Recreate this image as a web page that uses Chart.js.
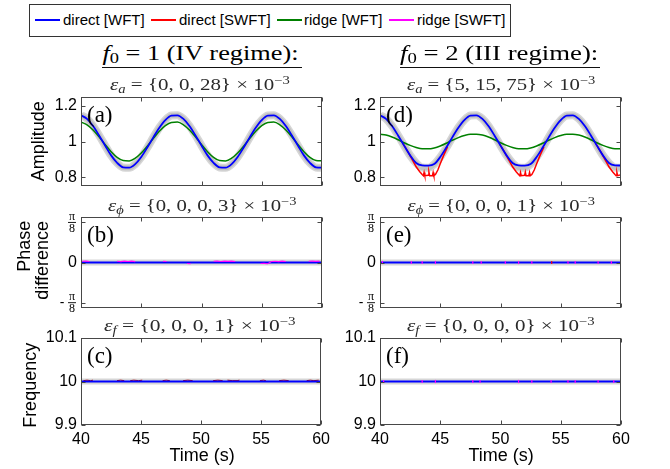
<!DOCTYPE html>
<html><head><meta charset="utf-8">
<script src="https://cdn.jsdelivr.net/npm/chart.js"></script>
<style>
html,body{margin:0;padding:0;background:#fff}
body{width:670px;height:469px;position:relative;overflow:hidden;font-family:"Liberation Sans",Arial,sans-serif;color:#000}
canvas{position:absolute}
.lab{position:absolute;white-space:nowrap;line-height:1.15;transform-origin:center center}
.serif{font-family:"Liberation Serif","Times New Roman",serif}
.sb{position:relative;top:0.25em;font-size:0.7em}
.sp{position:relative;top:-0.5em;font-size:0.7em}
.rule{position:absolute;height:1.5px;background:#111}
.lg{position:absolute;top:19px;width:25px;height:2px}
.lt{position:absolute;top:11px;font-size:15px;line-height:18px;white-space:nowrap}
</style></head><body>

<div style="position:absolute;left:29px;top:4px;width:480px;height:31px;border:1px solid #333"></div>
<div class="lg" style="left:35px;background:#0000ff"></div><span class="lt" style="left:63px">direct [WFT]</span>
<div class="lg" style="left:151px;background:#ff0000"></div><span class="lt" style="left:179px">direct [SWFT]</span>
<div class="lg" style="left:277px;background:#008000"></div><span class="lt" style="left:304px">ridge [WFT]</span>
<div class="lg" style="left:389px;background:#ff00ff"></div><span class="lt" style="left:417px">ridge [SWFT]</span>

<canvas id="ca"></canvas><canvas id="cb"></canvas><canvas id="cc"></canvas>
<canvas id="cd"></canvas><canvas id="ce"></canvas><canvas id="cf"></canvas>

<div class="lab serif" data-x="200" data-y="53" data-w="196" style="font-size:20px"><i>f</i><span class="sb">0</span> = 1 (IV regime):</div>
<div class="rule" style="left:102px;top:66.5px;width:200px"></div>
<div class="lab serif" data-x="200" data-y="85" data-w="180" style="font-size:17px;color:#2a2a2a"><i>ε</i><span class="sb"><i>a</i></span> = {0, 0, 28} × 10<span class="sp">−3</span></div>
<div class="lab serif" data-x="499" data-y="53" data-w="198" style="font-size:20px"><i>f</i><span class="sb">0</span> = 2 (III regime):</div>
<div class="rule" style="left:400px;top:66.5px;width:200px"></div>
<div class="lab serif" data-x="501" data-y="85" data-w="188" style="font-size:17px;color:#2a2a2a"><i>ε</i><span class="sb"><i>a</i></span> = {5, 15, 75} × 10<span class="sp">−3</span></div>

<div class="lab serif" data-x="202" data-y="206" data-w="189" style="font-size:17px;color:#2a2a2a"><i>ε</i><span class="sb"><i>ϕ</i></span> = {0, 0, 0, 3} × 10<span class="sp">−3</span></div>
<div class="lab serif" data-x="501" data-y="206" data-w="188" style="font-size:17px;color:#2a2a2a"><i>ε</i><span class="sb"><i>ϕ</i></span> = {0, 0, 0, 1} × 10<span class="sp">−3</span></div>
<div class="lab serif" data-x="200" data-y="326" data-w="192" style="font-size:17px;color:#2a2a2a"><i>ε</i><span class="sb"><i>f</i></span> = {0, 0, 0, 1} × 10<span class="sp">−3</span></div>
<div class="lab serif" data-x="501" data-y="326" data-w="188" style="font-size:17px;color:#2a2a2a"><i>ε</i><span class="sb"><i>f</i></span> = {0, 0, 0, 0} × 10<span class="sp">−3</span></div>

<div class="lab" data-x="38" data-y="141.5" data-rot="1" style="font-size:18px">Amplitude</div>
<div class="lab" data-x="24" data-y="246" data-rot="1" style="font-size:18px">Phase</div>
<div class="lab" data-x="42" data-y="260" data-rot="1" style="font-size:18px">difference</div>
<div class="lab" data-x="30" data-y="385" data-rot="1" style="font-size:18px">Frequency</div>
<div class="lab" data-x="202" data-y="455" style="font-size:18px">Time (s)</div>
<div class="lab" data-x="501" data-y="455" style="font-size:18px">Time (s)</div>

<script>
// ---------------- data ----------------
const timeAmp = [40,40.5,41,41.5,42,42.5,43,43.5,44,44.5,45,45.5,46,46.5,47,47.5,48,48.5,49,49.5,50,50.5,51,51.5,52,52.5,53,53.5,54,54.5,55,55.5,56,56.5,57,57.5,58,58.5,59,59.5,60];
// true signal (grey band)
const ampSignal = [1.148,1.128,1.088,1.035,0.977,0.922,0.879,0.854,0.852,0.872,0.912,0.965,1.023,1.078,1.121,1.146,
                   1.148,1.128,1.088,1.035,0.977,0.922,0.879,0.854,0.852,0.872,0.912,0.965,1.023,1.078,1.121,1.146,
                   1.148,1.128,1.088,1.035,0.977,0.922,0.879,0.854,0.852];
// (a) f0 = 1
const ampDirectWFT_a = [1.147,1.127,1.087,1.034,0.977,0.922,0.880,0.855,0.853,0.873,0.913,0.966,1.023,1.077,1.120,1.145,
                        1.147,1.127,1.087,1.034,0.977,0.922,0.880,0.855,0.853,0.873,0.913,0.966,1.023,1.077,1.120,1.145,
                        1.147,1.127,1.087,1.034,0.977,0.922,0.880,0.855,0.853];
const ampRidgeWFT_a = [1.109,1.094,1.065,1.026,0.983,0.943,0.911,0.893,0.891,0.906,0.935,0.974,1.017,1.057,1.089,1.107,
                       1.109,1.094,1.065,1.026,0.983,0.943,0.911,0.893,0.891,0.906,0.935,0.974,1.017,1.057,1.089,1.107,
                       1.109,1.094,1.065,1.026,0.983,0.943,0.911,0.893,0.891];
// (d) f0 = 2
const ampDirectWFT_d = [1.147,1.127,1.087,1.034,0.977,0.922,0.879,0.866,0.865,0.873,0.913,0.966,1.023,1.077,1.120,1.145,
                        1.147,1.127,1.087,1.034,0.977,0.922,0.879,0.866,0.865,0.873,0.913,0.966,1.023,1.077,1.120,1.145,
                        1.147,1.127,1.087,1.034,0.977,0.922,0.879,0.866,0.865];
const ampRidgeWFT_d = [1.041,1.036,1.025,1.010,0.993,0.978,0.966,0.959,0.959,0.964,0.975,0.990,1.007,1.022,1.034,1.041,
                       1.041,1.036,1.025,1.010,0.993,0.978,0.966,0.959,0.959,0.964,0.975,0.990,1.007,1.022,1.034,1.041,
                       1.041,1.036,1.025,1.010,0.993,0.978,0.966,0.959,0.959];
const timeDirectSWFT_d = [41.9,42.3,42.7,43.0,43.3,43.5,43.6,43.66,43.72,44.0,44.06,44.12,44.35,44.41,44.47,44.6,44.8,45.0,45.3,45.6,45.8,
                          49.9,50.3,50.7,51.0,51.3,51.5,51.6,51.66,51.72,52.0,52.06,52.12,52.35,52.41,52.47,52.6,52.8,53.0,53.3,53.6,53.8,
                          57.9,58.3,58.7,59.0,59.3,59.5,59.6,59.66,59.72,59.95,60.0];
const ampDirectSWFT_d = [0.99,0.945,0.895,0.858,0.83,0.815,0.808,0.826,0.808,0.810,0.828,0.808,0.808,0.826,0.808,0.814,0.84,0.875,0.925,0.97,null,
                         0.99,0.945,0.895,0.858,0.83,0.815,0.808,0.826,0.808,0.810,0.828,0.808,0.808,0.826,0.808,0.814,0.84,0.875,0.925,0.97,null,
                         0.99,0.945,0.895,0.858,0.83,0.815,0.808,0.826,0.808,0.812,0.822];
// phase difference panels
const timeSpan = [40, 60];
const phaseLine = [0, 0];
const timeRidgeSWFT_b = [40.1,40.4,40.7,40.8, 43.0,43.3,43.6,43.9,44.2,44.5,44.6, 46.8,47.1,47.2, 48.8,49.1,49.2,
                         51.0,51.3,51.6,51.9,52.2,52.5,52.8,52.9, 54.9,55.2,55.5,55.8,56.1,56.4,56.7,57.0,57.1, 58.9,59.2,59.5,59.8];
const phaseRidgeSWFT_b = [0.012,0.014,0.010,null, 0.012,0.008,0.014,0.010,0.013,0.009,null, 0.012,0.010,null, -0.010,-0.012,null,
                          0.012,0.014,0.010,0.013,0.011,0.014,0.010,null, -0.010,-0.008,-0.012,0.010,0.012,0.009,0.013,0.010,null, 0.012,0.014,0.011,0.013];
const timeRidgeSWFT_e = [40.2,42.6,43.5,44.6,47.7,48.4,50.4,51.5,52.6,55.6,56.2,58.1,59.2];
const phaseRidgeSWFT_e = [0,0,0,0,0,0,0,0,0,0,0,0,0];
const timeDirectSWFT_e = [54.25];
const phaseDirectSWFT_e = [0];
// frequency panels
const freqLine = [10, 10];
const timeDirectSWFT_c = [40.2,40.5,40.8,41.0,41.1, 43.0,43.3,43.6,43.7, 44.1,44.4,44.8,45.1,45.2, 46.8,47.1,47.4,47.5,
                          48.5,48.9,49.3,49.4, 51.0,51.4,51.8,51.9, 52.2,52.6,53.0,53.2,53.3, 54.9,55.2,55.4,55.5,
                          56.5,56.9,57.3,57.4, 58.8,59.1,59.4,59.8];
const freqDirectSWFT_c = [10.002,10.003,10.002,10.003,null, 10.002,10.003,10.002,null, 10.002,10.003,10.002,10.003,null, 10.002,10.003,10.002,null,
                          10.002,10.003,10.002,null, 10.002,10.003,10.002,null, 10.003,10.002,10.002,10.003,null, 10.002,10.003,10.002,null,
                          10.002,10.003,10.002,null, 10.002,10.003,10.002,10.003];
const timeRidgeSWFT_f = [40.3,43.5,44.6,47.7,48.3,51.5,52.6,54.2,55.6,56.2,58.1,59.4];
const freqRidgeSWFT_f = [10,10,10,10,10,10,10,10,10,10,10,10];
// ticks
const xTicks = [40,45,50,55,60];
const ampTicks = [0.8,1,1.2];
const phaseTicks = [-Math.PI/8, 0, Math.PI/8];
const freqTicks = [9.9,10,10.1];

// ---------------- helpers ----------------
const SANS = '"Liberation Sans", Arial, sans-serif';
const SERIF = '"Liberation Serif", "Times New Roman", serif';
const C = {blue:'#0000ff', red:'#ff0000', darkred:'#b00000', green:'#008000', mag:'#ff00ff', grey:'#d6d6d6', greyDark:'#c2c2c2'};
function pts(xs, ys){ return xs.map((x,i)=>({x:x, y:ys[i]})); }
function line(xs, ys, color, width, order, extra){
  return Object.assign({data:pts(xs,ys), borderColor:color, backgroundColor:color, borderWidth:width,
    pointRadius:0, fill:false, order:order, spanGaps:false, clip:0, cubicInterpolationMode:'monotone'}, extra||{});
}
function marks(xs, ys, color, order){
  return {data:pts(xs,ys), showLine:false, pointStyle:'line', rotation:90, pointRadius:1.6,
    pointBorderColor:color, pointBorderWidth:1.2, borderColor:color, order:order, clip:0};
}
const deco = {
  id:'deco',
  afterDatasetsDraw(chart, args, o){
    const ctx = chart.ctx, a = chart.chartArea, xs = chart.scales.x, ys = chart.scales.y;
    const L = Math.round(a.left)+0.5, R = Math.round(a.right)-0.5, T = Math.round(a.top)+0.5, B = Math.round(a.bottom)-0.5;
    ctx.save();
    ctx.strokeStyle = '#474747'; ctx.lineWidth = 1;
    ctx.beginPath();
    xs.ticks.forEach(t=>{ const p = Math.round(xs.getPixelForValue(t.value))+0.5;
      ctx.moveTo(p,B); ctx.lineTo(p,B-4); ctx.moveTo(p,T); ctx.lineTo(p,T+4); });
    ys.ticks.forEach(t=>{ const p = Math.round(ys.getPixelForValue(t.value))+0.5;
      ctx.moveTo(L,p); ctx.lineTo(L+4,p); ctx.moveTo(R,p); ctx.lineTo(R-4,p); });
    ctx.stroke();
    ctx.strokeRect(L, T, R-L, B-T);
    ctx.fillStyle = '#000';
    ctx.font = '23px ' + SERIF; ctx.textAlign = 'left'; ctx.textBaseline = 'middle';
    ctx.fillText(o.letter, a.left+6, a.top+19);
    if (o.fractions){
      [Math.PI/8, -Math.PI/8].forEach(v=>{
        const py = ys.getPixelForValue(v), cx = a.left-9;
        ctx.font = '12px ' + SERIF; ctx.textAlign = 'center';
        ctx.textBaseline = 'bottom'; ctx.fillText('π', cx, py+0.5);
        ctx.textBaseline = 'top'; ctx.fillText('8', cx, py+0.5);
        ctx.fillRect(cx-4, py-0.4, 8, 0.9);
        if (v < 0){ ctx.font = '14px ' + SANS; ctx.textBaseline='middle'; ctx.fillText('-', cx-10, py); }
      });
    }
    ctx.restore();
  }
};
function panel(id, box, col, bottomRow, yMin, yMax, yTicks, yLabel, datasets, letter, fractions){
  const cl = col===0 ? 0 : 310, cw = col===0 ? 335 : 360;
  const top = box.T - 15, bot = box.B + (bottomRow ? 38 : 15);
  const cv = document.getElementById(id);
  cv.width = cw; cv.height = bot - top;
  cv.style.left = cl + 'px'; cv.style.top = top + 'px';
  const YW = 40, XH = bottomRow ? 30 : 0;
  return new Chart(cv, {
    type:'line',
    data:{datasets:datasets},
    plugins:[deco],
    options:{
      responsive:false, animation:false, devicePixelRatio:1,
      layout:{autoPadding:false, padding:{left: box.L - cl - YW, right: cl + cw - box.R, top:15, bottom: bottomRow ? 38 - XH : 15}},
      plugins:{legend:{display:false}, tooltip:{enabled:false}, deco:{letter:letter, fractions:fractions}},
      elements:{line:{tension:0}},
      scales:{
        x:{type:'linear', min:40, max:60,
           afterBuildTicks:s=>{ s.ticks = xTicks.map(v=>({value:v})); },
           afterFit:s=>{ s.height = XH; },
           grid:{display:false, drawTicks:false}, border:{display:false},
           ticks:{display:bottomRow, padding:5, color:'#000', font:{family:SANS, size:16}, maxRotation:0, callback:v=>String(v)}},
        y:{type:'linear', min:yMin, max:yMax,
           afterBuildTicks:s=>{ s.ticks = yTicks.map(v=>({value:v})); },
           afterFit:s=>{ s.width = YW; },
           grid:{display:false, drawTicks:false}, border:{display:false},
           ticks:{padding:4, color:'#000', font:{family:SANS, size:16}, callback:yLabel}}
      }
    }
  });
}
const numLabel = v => String(Math.round(v*100)/100);
const phaseLabel = v => (Math.abs(v) < 1e-9 ? '0' : '');
const rowA = {T:97, B:186}, rowB = {T:217, B:308}, rowC = {T:338, B:425};
const colL = {L:81, R:322}, colR = {L:380, R:621};
const box = (c, r) => ({L:c.L, R:c.R, T:r.T, B:r.B});

panel('ca', box(colL,rowA), 0, false, 0.75, 1.25, ampTicks, numLabel, [
  line(timeAmp, ampSignal, C.grey, 8, 6),
  line(timeAmp, ampSignal, C.greyDark, 5, 5),
  line(timeAmp, ampRidgeWFT_a, C.green, 1.5, 4),
  line(timeAmp, ampDirectWFT_a, C.blue, 1.8, 2)
], '(a)', false);
panel('cd', box(colR,rowA), 1, false, 0.75, 1.25, ampTicks, numLabel, [
  line(timeAmp, ampSignal, C.grey, 8, 6),
  line(timeAmp, ampSignal, C.greyDark, 5, 5),
  line(timeAmp, ampRidgeWFT_d, C.green, 1.5, 4),
  line(timeDirectSWFT_d, ampDirectSWFT_d, C.red, 1.5, 3, {cubicInterpolationMode:'default', tension:0}),
  line(timeAmp, ampDirectWFT_d, C.blue, 1.8, 2)
], '(d)', false);
panel('cb', box(colL,rowB), 0, false, -0.445, 0.445, phaseTicks, phaseLabel, [
  line(timeSpan, phaseLine, C.grey, 6, 5),
  line(timeSpan, phaseLine, C.blue, 1.8, 2),
  line(timeRidgeSWFT_b, phaseRidgeSWFT_b, C.mag, 1.2, 1, {cubicInterpolationMode:'default', tension:0})
], '(b)', true);
panel('ce', box(colR,rowB), 1, false, -0.445, 0.445, phaseTicks, phaseLabel, [
  line(timeSpan, phaseLine, C.grey, 6, 5),
  line(timeSpan, phaseLine, C.blue, 1.8, 3),
  marks(timeDirectSWFT_e, phaseDirectSWFT_e, C.red, 2),
  marks(timeRidgeSWFT_e, phaseRidgeSWFT_e, C.mag, 1)
], '(e)', true);
panel('cc', box(colL,rowC), 0, true, 9.9, 10.1, freqTicks, numLabel, [
  line(timeSpan, freqLine, C.grey, 6, 5),
  line(timeDirectSWFT_c, freqDirectSWFT_c, C.darkred, 1, 3, {cubicInterpolationMode:'default', tension:0}),
  line(timeSpan, freqLine, C.blue, 1.8, 2)
], '(c)', false);
panel('cf', box(colR,rowC), 1, true, 9.9, 10.1, freqTicks, numLabel, [
  line(timeSpan, freqLine, C.grey, 6, 5),
  line(timeSpan, freqLine, C.blue, 1.8, 3),
  marks(timeRidgeSWFT_f, freqRidgeSWFT_f, C.mag, 1)
], '(f)', false);

// ---------------- text placement ----------------
document.querySelectorAll('.lab').forEach(el=>{
  const w = el.offsetWidth, h = el.offsetHeight;
  el.style.left = (+el.dataset.x - w/2) + 'px';
  el.style.top = (+el.dataset.y - h/2) + 'px';
  let t = '';
  if (el.dataset.rot) t += 'rotate(-90deg) ';
  if (el.dataset.w) t += 'scaleX(' + (+el.dataset.w / w).toFixed(4) + ')';
  el.style.transform = t;
});
</script>
</body></html>
